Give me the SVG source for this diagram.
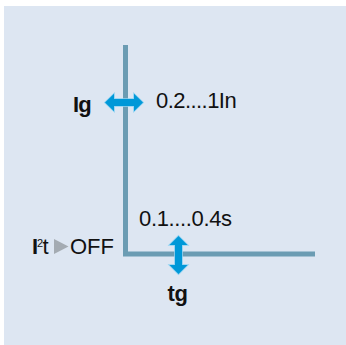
<svg xmlns="http://www.w3.org/2000/svg" width="346" height="345" viewBox="0 0 346 345">
<style>
.t{font-family:"Liberation Sans",Arial,sans-serif;fill:#111;font-size:22px;}
.b{font-weight:bold;}
.sup{font-size:11px;}
.arr{fill:#0098d8;stroke:#8fd2f2;stroke-width:1.6;stroke-linejoin:miter;paint-order:stroke;}
.axis{fill:none;stroke:#6b9cb3;stroke-width:5;stroke-linecap:butt;stroke-linejoin:miter;}
</style>
<rect x="0" y="0" width="346" height="345" fill="#ffffff"/>
<rect x="4" y="6" width="342" height="339" fill="#dde6f2"/>
<g id="connectors">
<path class="axis" d="M125.5,45 V254 H315"/>
</g>
<g id="ig">
<path class="arr" d="M105,102.5 L114,93.8 L114,99 L134,99 L134,93.8 L143,102.5 L134,111.2 L134,106 L114,106 L114,111.2 Z"/>
<text class="t b" x="73" y="112.3" letter-spacing="-0.8">Ig</text>
<text class="t" x="156" y="108.3" letter-spacing="-0.55">0.2....1In</text>
</g>
<g id="tg">
<path class="arr" d="M178.5,236 L187.5,245 L182,245 L182,265 L187.5,265 L178.5,274 L169.5,265 L175,265 L175,245 L169.5,245 Z"/>
<text class="t b" x="167.5" y="301" letter-spacing="-0.4">tg</text>
<text class="t" x="139" y="225.7" letter-spacing="-0.35">0.1....0.4s</text>
</g>
<g id="i2t">
<text class="t b" x="32" y="254">I</text>
<text class="t sup" x="37" y="246.5">2</text>
<text class="t" x="42.5" y="254">t</text>
<path d="M54,239 L68.5,246.5 L54,254 Z" fill="#a4abb2"/>
<text class="t" x="70" y="254">OFF</text>
</g>
</svg>
